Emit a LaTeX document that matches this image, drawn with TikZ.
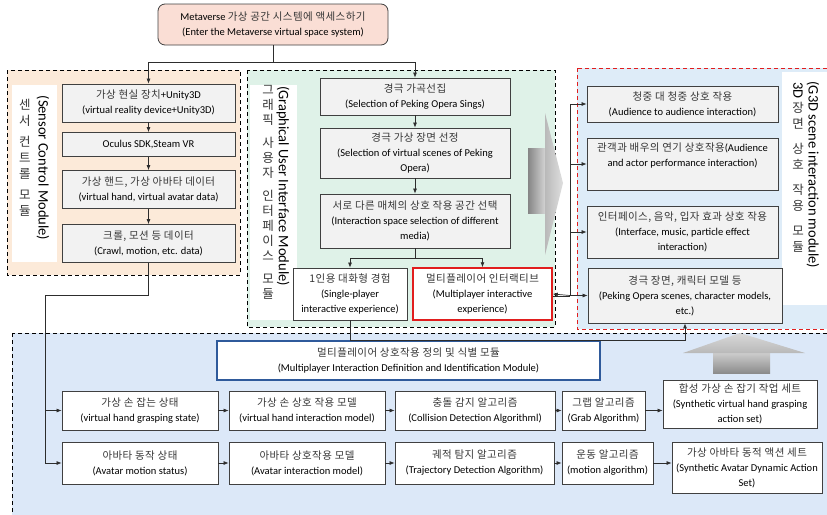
\documentclass[tikz,border=0pt]{standalone}
\usepackage{fontspec}
\usepackage{graphicx}
\setmainfont{Carlito}
\newfontfamily\krfont{Noto Sans CJK KR}[LetterSpace=4]
\newfontfamily\krlabel{Noto Sans CJK KR}
\usetikzlibrary{arrows.meta}
\definecolor{krtext}{RGB}{55,55,55}
\newcommand\kr[1]{{\krfont\fontsize{10.5}{15}\selectfont\color{krtext}#1}}

\definecolor{pinkbg}{RGB}{250,222,213}
\definecolor{orangebg}{RGB}{252,234,217}
\definecolor{greenbg}{RGB}{223,242,232}
\definecolor{skybg}{RGB}{222,236,248}
\definecolor{bluebg}{RGB}{220,232,248}
\definecolor{boxgray}{RGB}{242,242,242}
\definecolor{boxline}{RGB}{64,64,64}
\definecolor{linec}{RGB}{45,45,45}
\definecolor{redline}{RGB}{225,30,30}
\definecolor{modblue}{RGB}{47,90,155}

\tikzset{
  box/.style={draw=boxline, line width=0.8pt, align=center, inner sep=1pt,
    font=\fontsize{10.5}{15}\selectfont, text=black},
  gbox/.style={box, fill=boxgray},
  wbox/.style={box, fill=white},
  region/.style={dash pattern=on 4pt off 3pt, line width=1pt},
  arr/.style={draw=linec, line width=0.7pt, -{Latex[length=5pt,width=4pt]}},
  link/.style={draw=linec, line width=0.7pt},
  vlab/.style={font=\fontsize{14.5}{16}\selectfont, rotate=-90, inner sep=0pt},
  klab/.style={align=center, inner sep=0pt, anchor=north, text=krtext},
}

\begin{document}
\begin{tikzpicture}[x=1pt,y=-1pt]
\useasboundingbox (0,0) rectangle (827,514);
\clip (0,0) rectangle (827,514);

% module areas
\draw[region, fill=orangebg] (7,70) rectangle (240,275);
\draw[region, fill=greenbg] (247,70) rectangle (555,327);
\draw[region, draw=redline, fill=skybg] (577,68) rectangle (840,329);
\draw[region, fill=bluebg] (12,333) rectangle (840,525);

% white strips holding the module titles
\fill[white] (12,85) rectangle (57,262);
\fill[white] (250,85) rectangle (297,320);
\fill[white] (782,72) rectangle (840,305);

% module titles
\node[vlab] at (43,168) {(Sensor Control Module)};
\node[klab, font=\krlabel\fontsize{12.5}{16}\selectfont] at (25,99)
  {센\\서\\[5pt]컨\\트\\롤\\[5pt]모\\듈};
\node[vlab] at (283,186) {(Graphical User Interface Module)};
\node[klab, font=\krlabel\fontsize{12.5}{15}\selectfont] at (268,85)
  {그\\래\\픽\\[8pt]사\\용\\자\\[8pt]인\\터\\페\\이\\스\\[8pt]모\\듈};
\node[vlab] at (813,175) {(G3D scene interaction module)};
\node[klab, font=\krlabel\fontsize{12.5}{16}\selectfont] at (798,82)
  {\rotatebox{-90}{\fontsize{14.5}{16}\selectfont\rmfamily\color{black}3D}\\[3pt]장\\면\\[9pt]상\\호\\[9pt]작\\용\\[9pt]모\\듈};

% big shaded arrows
\shade[left color=gray!95, right color=gray!35] (528,148) rectangle (545,213);
\shade[left color=gray!55, right color=gray!25] (545,113) -- (563,183) -- (545,255) -- cycle;
\shade[top color=gray!40, bottom color=gray!90] (713,353) rectangle (770,373);
\shade[top color=gray!30, bottom color=gray!55] (683,353) -- (740,333) -- (805,353) -- cycle;

% entry node
\node[box, fill=pinkbg, rounded corners=7pt, minimum width=230, minimum height=41] (top) at (273,24.5)
  {Metaverse \kr{가상 공간 시스템에 액세스하기}\\(Enter the Metaverse virtual space system)};

% sensor control column
\node[gbox, minimum width=173, minimum height=38] (L1) at (148.5,103)
  {\kr{가상 현실 장치}+Unity3D\\(virtual reality device+Unity3D)};
\node[gbox, minimum width=173, minimum height=24] (L2) at (148.5,144.5)
  {Oculus SDK,Steam VR};
\node[gbox, minimum width=173, minimum height=38] (L3) at (148.5,189.5)
  {\kr{가상 핸드, 가상 아바타 데이터}\\(virtual hand, virtual avatar data)};
\node[gbox, minimum width=173, minimum height=38] (L4) at (148.5,243.5)
  {\kr{크롤, 모션 등 데이터}\\(Crawl, motion, etc. data)};

% graphical user interface column
\node[gbox, minimum width=190, minimum height=37] (B1) at (415,96.5)
  {\kr{경극 가곡선집}\\(Selection of Peking Opera Sings)};
\node[gbox, minimum width=190, minimum height=50] (B2) at (415,153)
  {\kr{경극 가상 장면 선정}\\(Selection of virtual scenes of Peking\\Opera)};
\node[gbox, minimum width=190, minimum height=54] (B3) at (415,221)
  {\kr{서로 다른 매체의 상호 작용 공간 선택}\\(Interaction space selection of different\\media)};
\node[wbox, minimum width=114, minimum height=52] (single) at (350,294)
  {\kr{1인용 대화형 경험}\\(Single-player\\interactive experience)};
\node[wbox, draw=redline, line width=1.5pt, minimum width=139, minimum height=52] (multi) at (482.5,294)
  {\kr{멀티플레이어 인터랙티브}\\(Multiplayer interactive\\experience)};

% 3D scene interaction column
\node[gbox, minimum width=191, minimum height=36] (R1) at (682.5,104)
  {\kr{청중 대 청중 상호 작용}\\(Audience to audience interaction)};
\node[gbox, minimum width=191, minimum height=52] (R2) at (682.5,164)
  {\kr{관객과 배우의 연기 상호작용}(Audience\\and actor performance interaction)\\ \strut};
\node[gbox, minimum width=191, minimum height=52] (R3) at (682.5,232)
  {\kr{인터페이스, 음악, 입자 효과 상호 작용}\\(Interface, music, particle effect\\interaction)};
\node[gbox, minimum width=194, minimum height=55] (R4) at (685,295.5)
  {\kr{경극 장면, 캐릭터 모델 등}\\(Peking Opera scenes, character models,\\etc.)};

% multiplayer interaction definition module
\node[wbox, draw=modblue, line width=1.5pt, minimum width=383, minimum height=39] (mod) at (408.5,360.5)
  {\kr{멀티플레이어 상호작용 정의 및 식별 모듈}\\(Multiplayer Interaction Definition and Identification Module)};

\node[wbox, minimum width=156, minimum height=39] (H1) at (140,410.5)
  {\kr{가상 손 잡는 상태}\\(virtual hand grasping state)};
\node[wbox, minimum width=156, minimum height=39] (H2) at (307,410.5)
  {\kr{가상 손 상호 작용 모델}\\(virtual hand interaction model)};
\node[wbox, minimum width=160, minimum height=39] (H3) at (475,410.5)
  {\kr{충돌 감지 알고리즘}\\(Collision Detection Algorithml)};
\node[wbox, minimum width=83, minimum height=39] (H4) at (603.5,410.5)
  {\kr{그랩 알고리즘}\\(Grab Algorithm)};
\node[wbox, minimum width=154, minimum height=48] (H5) at (740,404)
  {\kr{합성 가상 손 잡기 작업 세트}\\(Synthetic virtual hand grasping\\action set)};

\node[wbox, minimum width=156, minimum height=42] (A1) at (140,463)
  {\kr{아바타 동작 상태}\\(Avatar motion status)};
\node[wbox, minimum width=156, minimum height=42] (A2) at (307,463)
  {\kr{아바타 상호작용 모델}\\(Avatar interaction model)};
\node[wbox, minimum width=159, minimum height=42] (A3) at (474.5,463)
  {\kr{궤적 탐지 알고리즘}\\(Trajectory Detection Algorithm)};
\node[wbox, minimum width=91, minimum height=42] (A4) at (607.5,463)
  {\kr{운동 알고리즘}\\(motion algorithm)};
\node[wbox, minimum width=150, minimum height=51] (A5) at (747,467.5)
  {\kr{가상 아바타 동적 액션 세트}\\(Synthetic Avatar Dynamic Action\\Set)};

% connectors from the entry node
\coordinate (split) at (273,62);
\draw[link] (top.south) -- (split);
\draw[arr] (split) -| (L1.north);
\draw[arr] (split) -| (B1.north);

% sensor chain
\draw[arr] (L1) -- (L2);
\draw[arr] (L2) -- (L3);
\draw[arr] (L3) -- (L4);

% GUI chain
\draw[arr] (B1) -- (B2);
\draw[arr] (B2) -- (B3);
\coordinate (fork) at (415,258);
\draw[link] (B3.south) -- (fork);
\draw[arr] (fork) -| (single.north);
\draw[arr] (fork) -| (multi.north);

% multiplayer branch to the 3D scene boxes
\coordinate (bus) at (570,0);
\draw[link] (R1.west -| bus) -- (R4.west -| bus);
\draw[arr] (R4.west -| bus) -- (multi.east);
\draw[link] ([yshift=-2.5pt]multi.east) -- ([yshift=-2.5pt]multi.east -| bus);
\draw[arr] (R1.west -| bus) -- (R1.west);
\draw[arr] (R2.west -| bus) -- (R2.west);
\draw[arr] (R3.west -| bus) -- (R3.west);
\draw[arr] (R4.west -| bus) -- (R4.west);

% single player into the definition module and up to the scenes
\draw[arr] (single.south) |- (R4.south |- mod.north) -- (R4.south);

% sensor data into the lower rows
\coordinate (lbus) at (45,0);
\draw[link] (L4.south) -- (L4.south |- 0,295) -| (lbus |- A1.west);
\draw[arr] (lbus |- H1.west) -- (H1.west);
\draw[arr] (lbus |- A1.west) -- (A1.west);

% lower rows
\draw[arr] (H1) -- (H2);
\draw[arr] (H2) -- (H3);
\draw[arr] (H3) -- (H4);
\draw[arr] (H4.east) -- (H4.east -| H5.west);
\draw[arr] (A1) -- (A2);
\draw[arr] (A2) -- (A3);
\draw[arr] (A3) -- (A4);
\draw[arr] (A4.east) -- (A4.east -| A5.west);
\end{tikzpicture}
\end{document}
